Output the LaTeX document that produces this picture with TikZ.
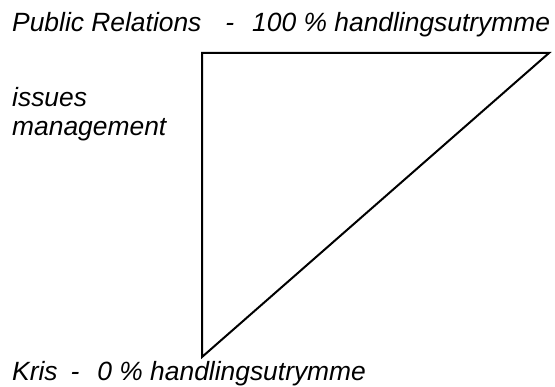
\documentclass[tikz,border=0pt]{standalone}
\usepackage{fontspec}
\setmainfont{Liberation Sans}
\begin{document}
\begin{tikzpicture}[x=1pt, y=-1pt, font=\fontsize{26.4}{29}\selectfont\itshape]
        \tikzset{
            edge/.style={draw=black, line width=2pt, line join=miter},
            caption/.style={anchor=base west, inner sep=0pt, align=left}
        }
        \useasboundingbox (0,0) rectangle (555,387);

        \coordinate (topLeft) at (202,53);
        \coordinate (topRight) at (549,53);
        \coordinate (bottom) at (202,357);
        \draw[edge] (bottom) -- (topLeft) -- (topRight) -- cycle;

        \node[caption] (prLabel) at (12,32) {Public Relations\hspace{24pt}-\hspace{18pt}100 \% handlingsutrymme};
        \node[caption] (issuesLabel) at (12,136) {issues\\management};
        \node[caption] (krisLabel) at (12,381) {Kris\hspace{13pt}-\hspace{18pt}0 \% handlingsutrymme};
    \end{tikzpicture}
\end{document}
